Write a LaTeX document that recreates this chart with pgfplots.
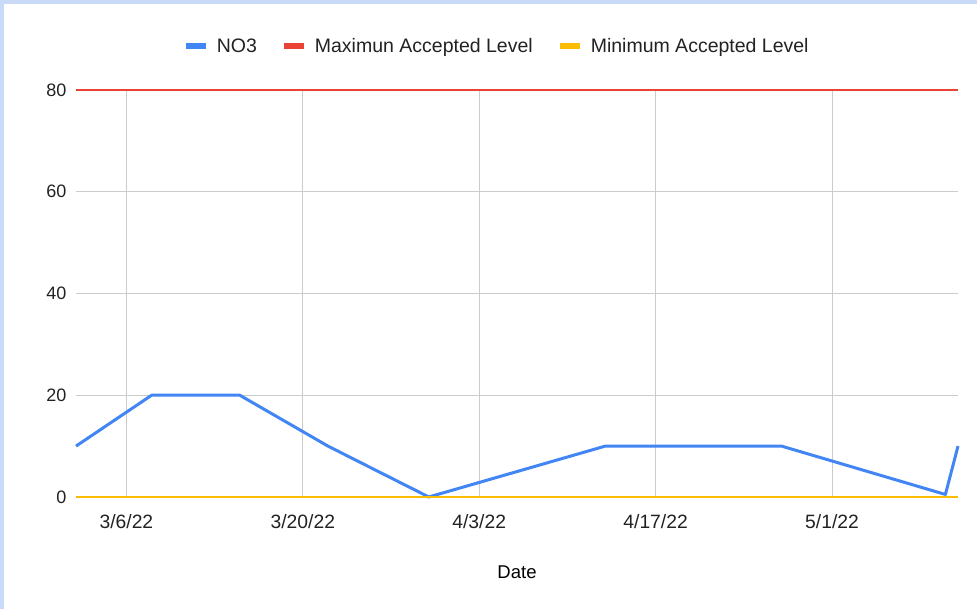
\documentclass[border=0pt]{standalone}
\usepackage{pgfplots}
\pgfplotsset{compat=1.18}
\usepackage{fontspec}
\setmainfont{Liberation Sans}
\definecolor{gblue}{HTML}{4285F4}
\definecolor{gred}{HTML}{EA4335}
\definecolor{gyellow}{HTML}{FBBC04}
\definecolor{framecol}{HTML}{C9DAF8}
\definecolor{gridcol}{HTML}{CCCCCC}
\definecolor{txt}{HTML}{222222}
\begin{document}
\begin{tikzpicture}
\fill[white] (0pt,0pt) rectangle (977pt,609pt);
\fill[framecol] (0pt,0pt) rectangle (4pt,609pt);
\fill[framecol] (0pt,605pt) rectangle (977pt,609pt);
\begin{axis}[
  at={(76pt,112pt)}, anchor=south west,
  scale only axis, width=882pt, height=407pt,
  xmin=-4, xmax=66, ymin=0, ymax=80,
  clip=false,
  axis line style={draw=none},
  tick style={draw=none},
  xtick={0,14,28,42,56},
  xticklabels={3/6/22,3/20/22,4/3/22,4/17/22,5/1/22},
  ytick={0,20,40,60,80},
  grid=major,
  major grid style={gridcol, line width=1pt},
  /pgf/number format/assume math mode=true,
  ticklabel style={text=txt},
  yticklabel style={xshift=-6pt, font=\fontsize{18}{22}\selectfont},
  xticklabel style={yshift=-14pt, font=\fontsize{19.3}{22}\selectfont},
  xlabel={Date},
  xlabel style={at={(axis description cs:0.5,-0.184)}, anchor=center, font=\fontsize{18.5}{22}\selectfont, text=black},
  legend columns=3,
  legend style={draw=none, fill=none, at={(0.477,1.108)}, anchor=center,
    font=\fontsize{19.5}{22}\selectfont, text=txt,
    /tikz/every odd column/.append style={column sep=6pt},
    /tikz/every even column/.append style={column sep=22pt}},
  legend image code/.code={\draw[line width=6pt, line cap=butt] (0pt,0pt) -- (20pt,0pt);},
]
\addplot[gblue, line width=3pt, line join=round] coordinates {
  (-4,10) (2,20) (9,20) (16,10) (24,0) (38,10) (52,10) (65,0.5) (66,10)
};
\addlegendentry{NO3}
\addplot[gred, line width=2pt] coordinates {(-4,80) (66,80)};
\addlegendentry{Maximun Accepted Level}
\addplot[gyellow, line width=2pt] coordinates {(-4,0) (66,0)};
\addlegendentry{Minimum Accepted Level}
\end{axis}
\end{tikzpicture}
\end{document}
